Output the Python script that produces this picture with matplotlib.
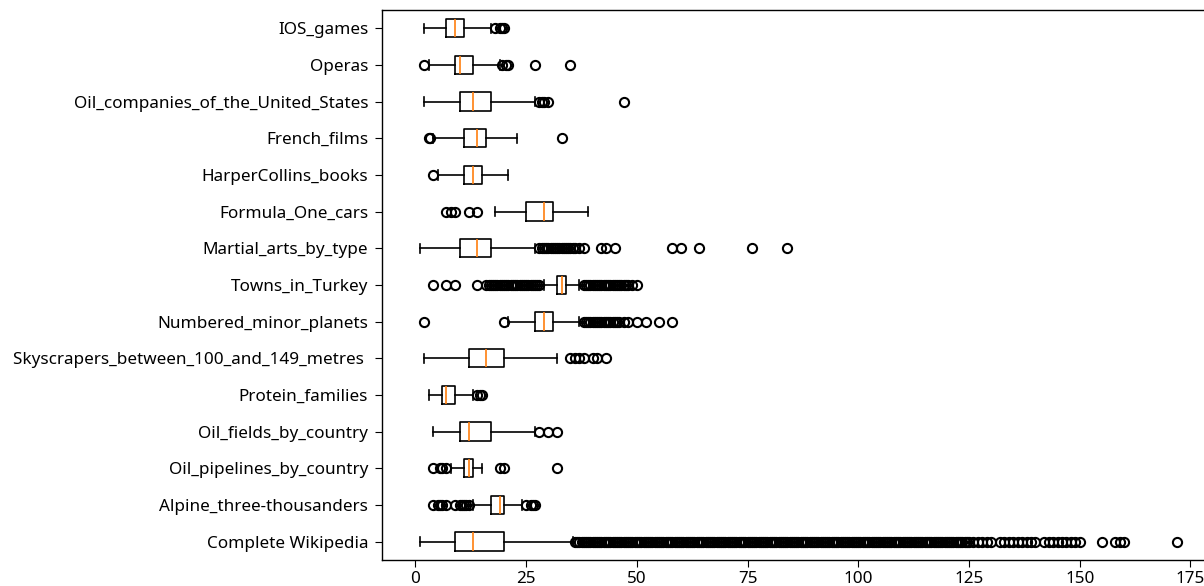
import matplotlib
matplotlib.use("Agg")
import matplotlib.pyplot as plt

plt.rcParams['font.family'] = ['Noto Sans', 'DejaVu Sans']

# categories from bottom to top
categories = ["Complete Wikipedia", "Alpine_three-thousanders", "Oil_pipelines_by_country",
              "Oil_fields_by_country", "Protein_families", "Skyscrapers_between_100_and_149_metres ",
              "Numbered_minor_planets", "Towns_in_Turkey", "Martial_arts_by_type",
              "Formula_One_cars", "HarperCollins_books", "French_films",
              "Oil_companies_of_the_United_States", "Operas", "IOS_games"]

whislo = [1, 13, 8, 4, 3, 2, 21, 29, 1, 18, 5, 4, 2, 3, 2]
q1 = [9, 17, 11, 10, 6, 12, 27, 32, 10, 25, 11, 11, 10, 9, 7]
med = [13, 19, 12, 12, 7, 16, 29, 33, 14, 29, 13, 14, 13, 10, 9]
q3 = [20, 20, 13, 17, 9, 20, 31, 34, 17, 31, 15, 16, 17, 13, 11]
whishi = [35.5, 24, 15, 27, 13, 32, 37, 37, 27, 39, 21, 23, 27, 19, 17]

wiki_fliers = [36, 36.5, 37, 37.5, 38, 38.5, 39, 39.5, 40, 40.5, 41, 41.5, 42, 42.5, 43, 43.5,
               44, 44.5, 45, 45.5, 46, 46.5, 47, 47.5, 48, 48.5, 49, 49.5, 50, 50.5, 51, 51.5,
               52, 52.5, 53, 53.5, 54, 54.5, 55, 55.5, 56, 56.5, 57, 57.5, 58, 58.5, 59, 59.5,
               60, 60.5, 61, 61.5, 62, 62.5, 63, 63.5, 64, 64.5, 65, 65.5, 66, 66.5, 67, 67.5,
               68, 68.5, 69, 69.5, 70, 70.5, 71, 71.5, 72, 72.5, 73, 73.5, 74, 74.5, 75, 75.5,
               76, 76.5, 77, 77.5, 78, 78.5, 79, 79.5, 80, 80.5, 81, 81.5, 82, 82.5, 83, 83.5,
               84, 84.5, 85, 85.5, 86, 86.5, 87, 87.5, 88, 88.5, 89, 89.5, 90, 90.5, 91, 91.5,
               92, 92.5, 93, 93.5, 94, 94.5, 95, 95.5, 96, 96.5, 97, 97.5, 98, 98.5, 99, 99.5,
               100, 100.5, 101, 101.5, 102, 102.5, 103, 103.5, 104, 104.5, 105, 105.5, 106,
               106.5, 107, 107.5, 108, 108.5, 109, 109.5, 110, 110.5, 111, 111.5, 112, 112.5,
               113, 113.5, 114, 114.5, 115, 115.5, 116, 116.5, 117, 117.5, 118, 118.5, 119,
               119.5, 120, 120.5, 121, 121.5, 122, 122.5, 123, 123.5, 124, 124.5, 125, 126,
               127, 128, 129, 130, 132, 133, 134, 135, 136, 137, 138, 139, 140, 142, 143, 144,
               145, 146, 147, 148, 149, 150, 155, 158, 159, 160, 172]
alpine_fliers = [4, 5, 5.5, 6, 7, 9, 10, 10.5, 11, 11.5, 12, 25, 26, 26.5, 27]
pipeline_fliers = [4, 5.5, 6, 7, 19, 20, 32]
oilfield_fliers = [28, 30, 32]
protein_fliers = [14, 14.5, 15]
sky_fliers = [35, 36, 37, 38, 40, 41, 43]
planets_fliers = [2, 20, 38, 38.5, 39, 39.5, 40, 40.5, 41, 41.5, 42, 42.5, 43, 43.5, 44, 44.5,
                  45, 45.5, 46, 47, 48, 50, 52, 55, 58]
towns_fliers = [4, 7, 9, 14, 16, 16.5, 17, 17.5, 18, 18.5, 19, 19.5, 20, 20.5, 21, 21.5, 22,
                22.5, 23, 23.5, 24, 24.5, 25, 25.5, 26, 26.5, 27, 27.5, 28,
                38, 38.5, 39, 39.5, 40, 40.5, 41, 41.5, 42, 42.5, 43, 43.5, 44, 44.5, 45, 45.5,
                46, 46.5, 47, 47.5, 48, 49, 50]
martial_fliers = [28, 28.5, 29, 29.5, 30, 30.5, 31, 31.5, 32, 32.5, 33, 33.5, 34, 34.5, 35,
                  35.5, 36, 37, 38, 42, 43, 45, 58, 60, 64, 76, 84]
f1_fliers = [7, 8, 9, 12, 14]
harper_fliers = [4]
french_fliers = [3, 3.3, 33]
oilco_fliers = [28, 28.5, 29, 30, 47]
opera_fliers = [2, 19.5, 20.5, 21, 27, 35]
ios_fliers = [18, 19, 19.5, 20]

fliers = [wiki_fliers, alpine_fliers, pipeline_fliers, oilfield_fliers, protein_fliers,
          sky_fliers, planets_fliers, towns_fliers, martial_fliers, f1_fliers,
          harper_fliers, french_fliers, oilco_fliers, opera_fliers, ios_fliers]

stats = []
for i in range(len(categories)):
    stats.append({"label": categories[i], "whislo": whislo[i], "q1": q1[i], "med": med[i],
                  "q3": q3[i], "whishi": whishi[i], "fliers": fliers[i]})

lw = 1.2
fig = plt.figure(figsize=(12.04, 5.86), dpi=100)
ax = fig.add_axes([0.3173, 0.0444, 0.6918, 0.9386])
ax.bxp(stats, orientation="horizontal",
       boxprops=dict(linewidth=lw), whiskerprops=dict(linewidth=lw),
       capprops=dict(linewidth=lw), medianprops=dict(linewidth=lw, color="#ff7f0e"),
       flierprops=dict(marker="o", markersize=6.6, markeredgewidth=1.5,
                       markerfacecolor="none", markeredgecolor="black"))
for s in ax.spines.values():
    s.set_linewidth(1.0)
ax.tick_params(axis="y", labelsize=12.3, length=5, pad=5)
ax.tick_params(axis="x", labelsize=12.3, length=5, pad=3)

fig.savefig("out.png", dpi=100)
